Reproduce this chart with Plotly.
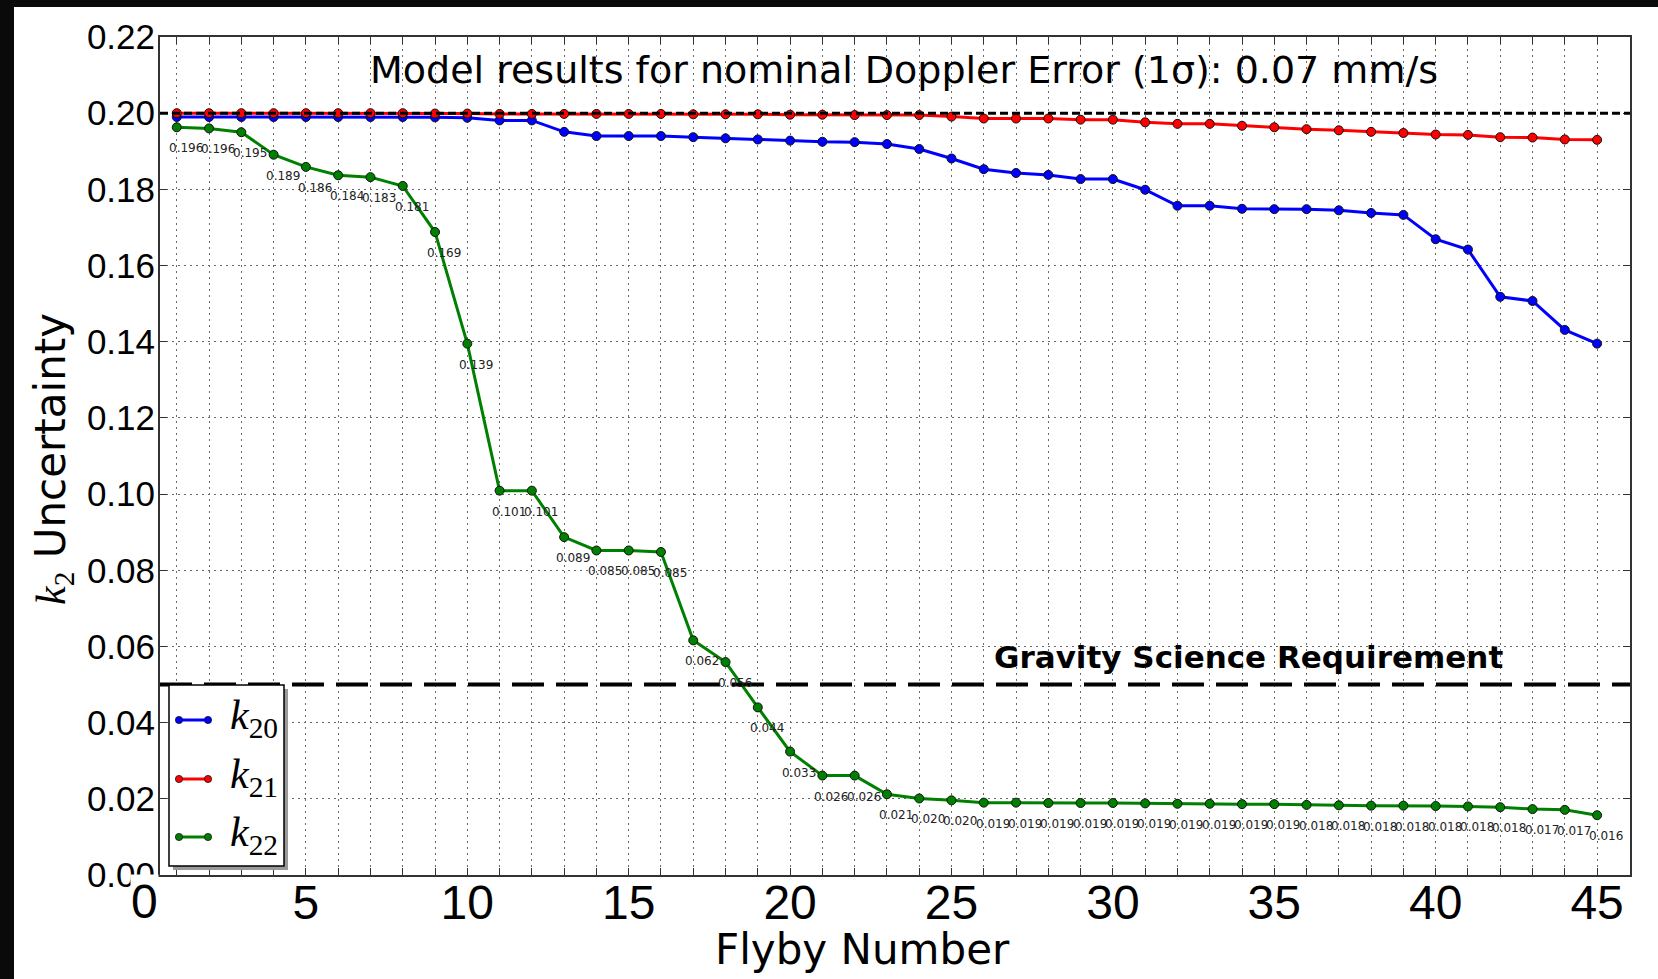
import plotly.graph_objects as go

# ---------------- data ----------------
flyby = [1, 2, 3, 4, 5, 6, 7, 8, 9, 10, 11, 12, 13, 14, 15, 16, 17, 18, 19, 20,
         21, 22, 23, 24, 25, 26, 27, 28, 29, 30, 31, 32, 33, 34, 35, 36, 37, 38, 39, 40,
         41, 42, 43, 44, 45]

k20 = [0.1990, 0.1990, 0.1990, 0.1990, 0.1990, 0.1990, 0.1990, 0.1990, 0.1989, 0.1988,
       0.1981, 0.1981, 0.1951, 0.1940, 0.1940, 0.1940, 0.1937, 0.1934, 0.1931, 0.1928,
       0.1925, 0.1924, 0.1919, 0.1906, 0.1881, 0.1853, 0.1843, 0.1838, 0.1827, 0.1827,
       0.1799, 0.1757, 0.1757, 0.1749, 0.1748, 0.1748, 0.1745, 0.1738, 0.1733, 0.1669,
       0.1642, 0.1518, 0.1507, 0.1431, 0.1395]

k21 = [0.2000, 0.2000, 0.2000, 0.2000, 0.2000, 0.2000, 0.2000, 0.2000, 0.1999, 0.1999,
       0.1998, 0.1998, 0.1998, 0.1998, 0.1998, 0.1998, 0.1997, 0.1997, 0.1997, 0.1996,
       0.1996, 0.1995, 0.1995, 0.1995, 0.1991, 0.1986, 0.1986, 0.1986, 0.1983, 0.1983,
       0.1976, 0.1972, 0.1972, 0.1967, 0.1963, 0.1958, 0.1955, 0.1951, 0.1948, 0.1944,
       0.1943, 0.1937, 0.1936, 0.1931, 0.1930]

k22 = [0.1963, 0.1960, 0.1950, 0.1891, 0.1859, 0.1837, 0.1832, 0.1809, 0.1688, 0.1395,
       0.1009, 0.1009, 0.0887, 0.0852, 0.0852, 0.0848, 0.0616, 0.0559, 0.0440, 0.0324,
       0.0261, 0.0261, 0.0212, 0.0201, 0.0196, 0.0190, 0.0190, 0.0189, 0.0189, 0.0189,
       0.0188, 0.0187, 0.0187, 0.0186, 0.0186, 0.0184, 0.0183, 0.0182, 0.0182, 0.0181,
       0.0180, 0.0178, 0.0173, 0.0171, 0.0157]

k22_labels = ["0.196", "0.196", "0.195", "0.189", "0.186", "0.184", "0.183", "0.181", "0.169", "0.139",
              "0.101", "0.101", "0.089", "0.085", "0.085", "0.085", "0.062", "0.056", "0.044", "0.033",
              "0.026", "0.026", "0.021", "0.020", "0.020", "0.019", "0.019", "0.019", "0.019", "0.019",
              "0.019", "0.019", "0.019", "0.019", "0.019", "0.018", "0.018", "0.018", "0.018", "0.018",
              "0.018", "0.018", "0.017", "0.017", "0.016"]

series_names = ["k<sub>20</sub>", "k<sub>21</sub>", "k<sub>22</sub>"]
legend_labels = ["20", "21", "22"]
series_colors = ["#0000ff", "#ff0000", "#008000"]

nominal_level = 0.20
requirement_level = 0.05
title_text = "Model results for nominal Doppler Error (1σ): 0.07 mm/s"
requirement_text = "Gravity Science Requirement"
x_title = "Flyby Number"
y_ticks = [0.00, 0.02, 0.04, 0.06, 0.08, 0.10, 0.12, 0.14, 0.16, 0.18, 0.20, 0.22]

# ---------------- layout geometry (pixels) ----------------
W, H = 1658, 979
L, R, T, B = 160, 28, 37, 104
PW, PH = W - L - R, H - T - B


def px(xp):
    return (xp - L) / PW


def py(yp):
    return (H - B - yp) / PH


fig = go.Figure()
for name, vals, col in zip(series_names, [k20, k21, k22], series_colors):
    fig.add_trace(go.Scatter(
        x=flyby, y=vals, mode="lines+markers", name=name, showlegend=False,
        line=dict(color=col, width=3),
        marker=dict(size=9, color=col, line=dict(color="#111111", width=1)),
        cliponaxis=False,
    ))

annotations = []
# data labels for k22
for xv, yv, lab in zip(flyby, k22, k22_labels):
    annotations.append(dict(
        x=xv, y=yv, xref="x", yref="y", text=lab, showarrow=False,
        xshift=9, yshift=-21, font=dict(family="DejaVu Sans", size=12, color="#222222"),
    ))

annotations += [
    dict(x=px(904), y=py(70), xref="paper", yref="paper", text=title_text, showarrow=False,
         xanchor="center", yanchor="middle", font=dict(family="DejaVu Sans", size=38, color="black")),
    dict(x=px(1248), y=py(657), xref="paper", yref="paper", text="<b>" + requirement_text + "</b>",
         showarrow=False, xanchor="center", yanchor="middle",
         font=dict(family="DejaVu Sans", size=31, color="black")),
    dict(x=px(862), y=py(950), xref="paper", yref="paper", text=x_title, showarrow=False,
         xanchor="center", yanchor="middle", font=dict(family="DejaVu Sans", size=42, color="black")),
    dict(x=px(53), y=py(459), xref="paper", yref="paper", textangle=-90, showarrow=False,
         text="<span style=\"font-family:'Liberation Serif'\"><i>k</i><sub>2</sub></span> Uncertainty",
         xanchor="center", yanchor="middle", font=dict(family="DejaVu Sans", size=42, color="black")),
    # the "0" tick label drawn left of the plotting area
    dict(x=px(144.5), y=py(874), xref="paper", yref="paper", text="0", showarrow=False,
         xanchor="center", yanchor="top", bgcolor="white", borderpad=0,
         font=dict(family="Liberation Sans", size=48, color="black")),
]

shapes = [
    # white card over dark background
    dict(type="rect", xref="paper", yref="paper", x0=px(14), x1=px(W + 20), y0=py(H + 20), y1=py(7),
         fillcolor="white", line=dict(width=0), layer="below"),
    dict(type="line", xref="paper", yref="y", x0=0, x1=1, y0=nominal_level, y1=nominal_level,
         line=dict(color="black", width=3, dash="8px,4px"), layer="above"),
    dict(type="line", xref="paper", yref="y", x0=0, x1=1, y0=requirement_level, y1=requirement_level,
         line=dict(color="black", width=4, dash="32px,12px"), layer="above"),
    # legend shadow + box
    dict(type="rect", xref="paper", yref="paper", x0=px(173), x1=px(288), y0=py(870), y1=py(689),
         fillcolor="#9a9a9a", line=dict(width=0), layer="above"),
    dict(type="rect", xref="paper", yref="paper", x0=px(169), x1=px(284), y0=py(866), y1=py(685),
         fillcolor="white", line=dict(color="black", width=1.5), layer="above"),
]

legend_y = [720, 779, 837]
r = 3.6
for lab, col, ly in zip(legend_labels, series_colors, legend_y):
    shapes.append(dict(type="line", xref="paper", yref="paper", x0=px(179), x1=px(208),
                       y0=py(ly), y1=py(ly), line=dict(color=col, width=3), layer="above"))
    for cx in (179, 208):
        shapes.append(dict(type="circle", xref="paper", yref="paper",
                           x0=px(cx - r), x1=px(cx + r), y0=py(ly + r), y1=py(ly - r),
                           fillcolor=col, line=dict(color="#111111", width=0.8), layer="above"))
    annotations.append(dict(x=px(228), y=py(ly - 2), xref="paper", yref="paper", showarrow=False,
                            text="<i>k</i><sub>" + lab + "</sub>", xanchor="left", yanchor="middle",
                            font=dict(family="Liberation Serif", size=42, color="black")))

fig.update_layout(
    width=W, height=H,
    margin=dict(l=L, r=R, t=T, b=B, pad=0),
    paper_bgcolor="#0a0a0a",
    plot_bgcolor="white",
    showlegend=False,
    annotations=annotations,
    shapes=shapes,
)

grid_dash = "2px,4px"
grid_col = "#6a6a6a"
fig.update_xaxes(
    range=[0.48, 46.02], tickmode="linear", tick0=0, dtick=5,
    ticks="inside", ticklen=7, tickwidth=1, tickcolor="#333333",
    showline=True, linecolor="#333333", linewidth=2, mirror="allticks",
    showgrid=True, gridcolor=grid_col, griddash=grid_dash, gridwidth=1,
    tickfont=dict(family="Liberation Sans", size=48, color="black"),
    ticklabelstandoff=-16,
    minor=dict(tickmode="linear", tick0=0, dtick=1, ticks="inside", ticklen=7, tickcolor="#333333",
               showgrid=True, gridcolor=grid_col, griddash=grid_dash, gridwidth=1),
    zeroline=False,
)
fig.update_yaxes(
    range=[0, 0.22], tickmode="array", tickvals=y_ticks, ticktext=["%.2f" % v for v in y_ticks],
    ticks="inside", ticklen=7, tickwidth=1, tickcolor="#333333",
    showline=True, linecolor="#333333", linewidth=2, mirror="allticks",
    showgrid=True, gridcolor=grid_col, griddash=grid_dash, gridwidth=1,
    tickfont=dict(family="Liberation Sans", size=35, color="black"),
    ticklabelstandoff=-4,
    zeroline=False,
)

fig.write_html("out.html")
